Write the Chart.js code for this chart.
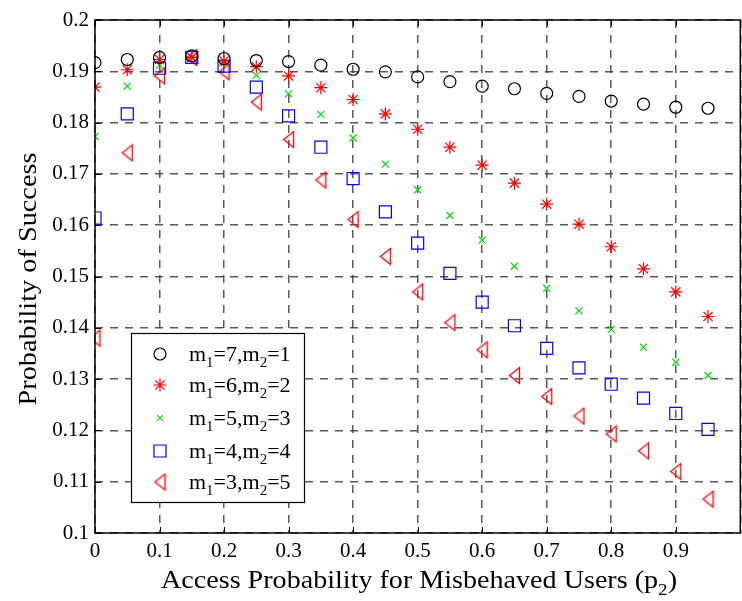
<!DOCTYPE html>
<html>
<head>
<meta charset="utf-8">
<script src="https://cdn.jsdelivr.net/npm/chart.js@4/dist/chart.umd.min.js"></script>
<style>
  html, body { margin: 0; padding: 0; background: #fff; overflow: hidden; }
  #wrap { width: 750px; height: 601px; position: relative; }
</style>
</head>
<body>
<div id="wrap"><canvas id="myChart"></canvas></div>
<script>
// access probability p2
const xs = [0, 0.05, 0.1, 0.15, 0.2, 0.25, 0.3, 0.35, 0.4, 0.45, 0.5, 0.55, 0.6, 0.65, 0.7, 0.75, 0.8, 0.85, 0.9, 0.95];

const m1 = [7, 6, 5, 4, 3];
const m2 = [1, 2, 3, 4, 5];

const s71 = [0.1917, 0.1923, 0.1927, 0.1930, 0.1925, 0.1921, 0.1919, 0.1912, 0.1904, 0.1899, 0.1889, 0.1880, 0.1871, 0.1866, 0.1857, 0.1851, 0.1842, 0.1836, 0.1830, 0.1828];
const s62 = [0.1869, 0.1903, 0.1923, 0.1927, 0.1920, 0.1909, 0.1891, 0.1868, 0.1845, 0.1817, 0.1787, 0.1752, 0.1717, 0.1682, 0.1641, 0.1602, 0.1558, 0.1515, 0.1470, 0.1422];
const s53 = [0.1773, 0.1871, 0.1912, 0.1927, 0.1916, 0.1892, 0.1856, 0.1816, 0.1770, 0.1719, 0.1669, 0.1619, 0.1571, 0.1520, 0.1477, 0.1433, 0.1397, 0.1362, 0.1333, 0.1307];
const s44 = [0.1614, 0.1817, 0.1906, 0.1927, 0.1910, 0.1869, 0.1813, 0.1752, 0.1691, 0.1626, 0.1565, 0.1506, 0.1450, 0.1404, 0.1360, 0.1322, 0.1290, 0.1263, 0.1233, 0.1202];
const s35 = [0.1380, 0.1741, 0.1891, 0.1927, 0.1899, 0.1840, 0.1767, 0.1688, 0.1611, 0.1539, 0.1470, 0.1410, 0.1357, 0.1307, 0.1266, 0.1228, 0.1193, 0.1160, 0.1120, 0.1066];

const FONT = '"Liberation Serif", "Times New Roman", Times, serif';
Chart.defaults.font.family = FONT;
Chart.defaults.color = '#000';

// left pointing triangle marker (matlab '<')
const tri = document.createElement('canvas');
tri.width = 13; tri.height = 19;
(function(){
  const c = tri.getContext('2d');
  c.strokeStyle = '#ff0000';
  c.lineWidth = 1.3;
  c.beginPath();
  c.moveTo(1.5, 9.5);
  c.lineTo(11.5, 1.5);
  c.lineTo(11.5, 17.5);
  c.closePath();
  c.stroke();
})();

function pts(ys) {
  return xs.map((x, i) => ({ x: x, y: ys[i] }));
}

const styles = [
  { color: '#000000', pointStyle: 'circle', radius: 6 },
  { color: '#ff0000', pointStyle: 'star', radius: 6.5 },
  { color: '#00dd00', pointStyle: 'crossRot', radius: 5 },
  { color: '#0000ff', pointStyle: 'rect', radius: 8.5 },
  { color: '#ff0000', pointStyle: tri, radius: 8 }
];
const allSeries = [s71, s62, s53, s44, s35];

const datasets = allSeries.map((ys, i) => ({
  label: 'm1=' + m1[i] + ',m2=' + m2[i],
  data: pts(ys),
  showLine: false,
  pointStyle: styles[i].pointStyle,
  pointRadius: styles[i].radius,
  pointHoverRadius: styles[i].radius,
  pointBorderColor: styles[i].color,
  pointBackgroundColor: 'rgba(0,0,0,0)',
  pointBorderWidth: 1.2
}));

// text with subscripts: parts = [[text, isSub], ...]
function subWidth(ctx, parts, size, subSize) {
  let w = 0;
  parts.forEach(p => {
    ctx.font = (p[1] ? subSize : size) + 'px ' + FONT;
    w += ctx.measureText(p[0]).width;
  });
  return w;
}
function drawSub(ctx, parts, x, y, size, subSize, drop) {
  parts.forEach(p => {
    ctx.font = (p[1] ? subSize : size) + 'px ' + FONT;
    ctx.fillText(p[0], x, p[1] ? y + drop : y);
    x += ctx.measureText(p[0]).width;
  });
}

const framePlugin = {
  id: 'frame',
  afterDraw(chart) {
    const ctx = chart.ctx;
    const a = chart.chartArea;
    const sx = chart.scales.x, sy = chart.scales.y;
    ctx.save();

    // inward tick marks
    ctx.strokeStyle = '#000';
    ctx.lineWidth = 1;
    ctx.setLineDash([]);
    ctx.beginPath();
    sx.ticks.forEach(t => {
      const px = Math.round(sx.getPixelForValue(t.value)) + 0.5;
      ctx.moveTo(px, a.bottom); ctx.lineTo(px, a.bottom - 6);
      ctx.moveTo(px, a.top); ctx.lineTo(px, a.top + 6);
    });
    sy.ticks.forEach(t => {
      const py = Math.round(sy.getPixelForValue(t.value)) + 0.5;
      ctx.moveTo(a.left, py); ctx.lineTo(a.left + 6, py);
    });
    ctx.stroke();

    // axes box
    ctx.lineWidth = 1.5;
    ctx.strokeRect(a.left, a.top, a.right - a.left, a.bottom - a.top);

    // legend
    const lx = 131, ly = 333, lw = 173, lh = 169;
    ctx.fillStyle = '#fff';
    ctx.fillRect(lx, ly, lw, lh);
    ctx.lineWidth = 1.2;
    ctx.strokeRect(lx + 0.5, ly + 0.5, lw, lh);
    const rowY = [354, 385, 418, 451, 482];
    chart.data.datasets.forEach((ds, i) => {
      const y = rowY[i];
      ctx.strokeStyle = ds.pointBorderColor;
      ctx.fillStyle = 'rgba(0,0,0,0)';
      ctx.lineWidth = ds.pointBorderWidth;
      Chart.helpers.drawPoint(ctx, {
        pointStyle: ds.pointStyle,
        radius: i === 2 ? 4 : ds.pointRadius,
        rotation: 0,
        borderWidth: ds.pointBorderWidth
      }, 160, y);
      ctx.fillStyle = '#000';
      ctx.textBaseline = 'alphabetic';
      ctx.textAlign = 'left';
      drawSub(ctx, [['m', false], ['1', true], ['=' + m1[i] + ',m', false], ['2', true], ['=' + m2[i], false]],
        189, y + 7, 22, 15, 6);
    });

    // x title
    ctx.fillStyle = '#000';
    ctx.textBaseline = 'alphabetic';
    ctx.textAlign = 'left';
    const xt = [['Access Probability for Misbehaved Users (p', false], ['2', true], [')', false]];
    const xw = subWidth(ctx, xt, 25, 17);
    const target = 516;
    ctx.save();
    ctx.translate(161, 588);
    ctx.scale(target / xw, 1);
    drawSub(ctx, xt, 0, 0, 25, 17, 7);
    ctx.restore();

    // y title
    ctx.save();
    ctx.translate(36, 279);
    ctx.rotate(-Math.PI / 2);
    ctx.font = '25px ' + FONT;
    ctx.textAlign = 'center';
    ctx.textBaseline = 'alphabetic';
    const yw = ctx.measureText('Probability of Success').width;
    ctx.scale(253 / yw, 1);
    ctx.fillText('Probability of Success', 0, 0);
    ctx.restore();

    ctx.restore();
  }
};

function fmt(v) {
  if (v > 0.999) return '';
  return String(parseFloat(v.toFixed(2)));
}

const gridStyle = {
  color: 'rgba(60,60,60,0.85)',
  lineWidth: 1.5,
  tickLength: 0,
  drawTicks: false
};

const ctx = document.getElementById('myChart').getContext('2d');
const myChart = new Chart(ctx, {
  type: 'scatter',
  data: { datasets: datasets },
  options: {
    responsive: true,
    maintainAspectRatio: false,
    animation: false,
    events: [],
    layout: { padding: { left: 0, top: 20, right: 6, bottom: 0 } },
    plugins: {
      legend: { display: false },
      tooltip: { enabled: false }
    },
    scales: {
      x: {
        type: 'linear',
        min: 0, max: 1,
        grid: gridStyle,
        border: { display: false, dash: [8, 7] },
        ticks: {
          stepSize: 0.1,
          padding: 6,
          color: '#000',
          font: { family: FONT, size: 21 },
          maxRotation: 0,
          callback: fmt
        },
        afterFit(scale) { scale.height = 68; }
      },
      y: {
        type: 'linear',
        min: 0.1, max: 0.2,
        grid: gridStyle,
        border: { display: false, dash: [8, 7] },
        ticks: {
          stepSize: 0.01,
          padding: 6,
          color: '#000',
          font: { family: FONT, size: 21 },
          callback: fmt
        },
        afterFit(scale) { scale.width = 95; }
      }
    }
  },
  plugins: [framePlugin]
});
</script>
</body>
</html>
